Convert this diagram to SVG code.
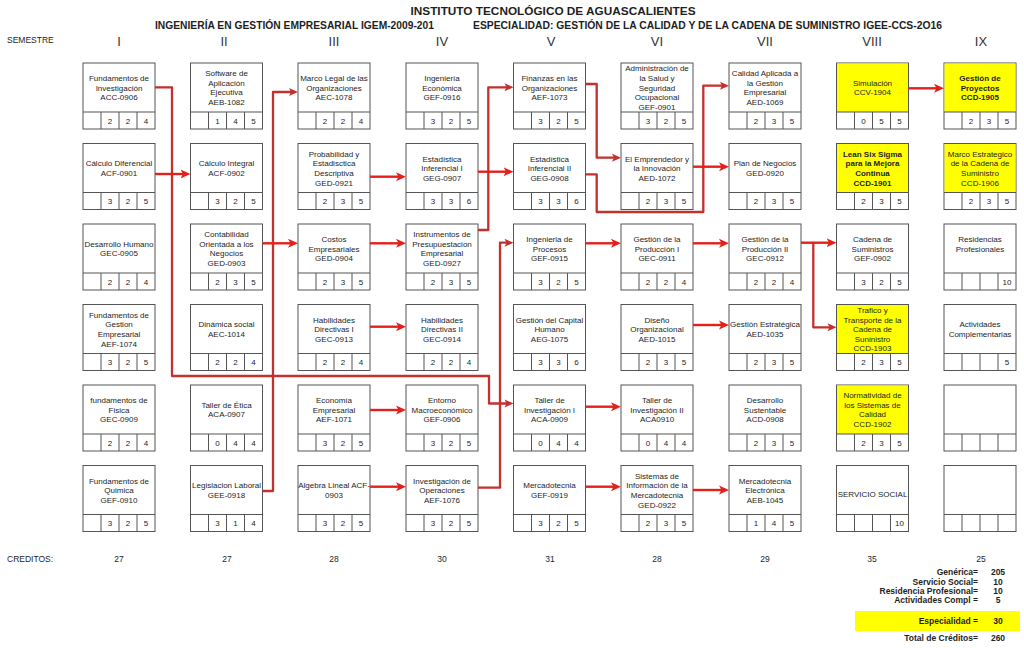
<svg xmlns="http://www.w3.org/2000/svg" width="1024" height="648" viewBox="0 0 1024 648">
<defs>
<style>
text{font-family:"Liberation Sans",Arial,sans-serif;fill:#1e1e1e}
.t{font-size:8px;text-anchor:middle}
.tb{font-size:8px;text-anchor:middle;font-weight:bold}
.n{font-size:8px;text-anchor:middle}
.box{fill:#fff;stroke:#555;stroke-width:1}
.yl{fill:#ffff00}
.gr{fill:none;stroke:#555;stroke-width:1}
.h1{font-size:11.8px;font-weight:bold;text-anchor:middle}
.h2{font-size:10px;font-weight:bold}
.sm{font-size:8.5px}
.rn{font-size:13px;text-anchor:middle;fill:#333}
.cr{font-size:8.5px;text-anchor:middle}
.sl{font-size:8.5px;font-weight:bold;text-anchor:end}
.sv{font-size:8.5px;font-weight:bold;text-anchor:middle}
.s{fill:none;stroke:#e3201b;stroke-width:2.4;marker-end:url(#as)}
.e{fill:none;stroke:#c4302e;stroke-width:2.3;stroke-linejoin:round;marker-end:url(#ae)}
</style>
<marker id="as" markerUnits="userSpaceOnUse" markerWidth="10" markerHeight="10" refX="6" refY="5" orient="auto">
<path d="M0,0.5 L10,5 L0,9.5 L2.5,5 Z" fill="#e3201b"/>
</marker>
<marker id="ae" markerUnits="userSpaceOnUse" markerWidth="10" markerHeight="10" refX="6" refY="5" orient="auto">
<path d="M1,1 L10,5 L1,9 L3,5 Z" fill="#c4302e"/>
</marker>
</defs>
<rect width="1024" height="648" fill="#fff"/>

<g id="header">
<text class="h1" x="553" y="15" textLength="285" lengthAdjust="spacingAndGlyphs">INSTITUTO TECNOLÓGICO DE AGUASCALIENTES</text>
<text class="h2" x="155" y="28.5" textLength="279" lengthAdjust="spacingAndGlyphs">INGENIERÍA EN GESTIÓN EMPRESARIAL IGEM-2009-201</text>
<text class="h2" x="473" y="28.5" textLength="469" lengthAdjust="spacingAndGlyphs">ESPECIALIDAD: GESTIÓN DE LA CALIDAD Y DE LA CADENA DE SUMINISTRO  IGEE-CCS-2O16</text>
<text class="sm" x="7" y="43">SEMESTRE</text>
<text class="rn" x="119" y="46">I</text>
<text class="rn" x="224" y="46">II</text>
<text class="rn" x="334" y="46">III</text>
<text class="rn" x="442" y="46">IV</text>
<text class="rn" x="551" y="46">V</text>
<text class="rn" x="657" y="46">VI</text>
<text class="rn" x="765" y="46">VII</text>
<text class="rn" x="872" y="46">VIII</text>
<text class="rn" x="981" y="46">IX</text>
</g>

<!-- Column I -->
<g id="acc-0906" transform="translate(83,63)"><rect class="box" width="72" height="66"/><path class="gr" d="M0,49H72M18,49V66M36,49V66M54,49V66"/>
<text class="t" x="36" y="18">Fundamentos de</text><text class="t" x="36" y="27.6">Investigación</text><text class="t" x="36" y="37.2">ACC-0906</text>
<text class="n" x="27" y="60.5">2</text><text class="n" x="45" y="60.5">2</text><text class="n" x="63" y="60.5">4</text></g>
<g id="acf-0901" transform="translate(83,143.5)"><rect class="box" width="72" height="66"/><path class="gr" d="M0,49H72M18,49V66M36,49V66M54,49V66"/>
<text class="t" x="36" y="22.8">Cálculo Diferencial</text><text class="t" x="36" y="32.4">ACF-0901</text>
<text class="n" x="27" y="60.5">3</text><text class="n" x="45" y="60.5">2</text><text class="n" x="63" y="60.5">5</text></g>
<g id="gec-0905" transform="translate(83,224)"><rect class="box" width="72" height="66"/><path class="gr" d="M0,49H72M18,49V66M36,49V66M54,49V66"/>
<text class="t" x="36" y="22.8">Desarrollo Humano</text><text class="t" x="36" y="32.4">GEC-0905</text>
<text class="n" x="27" y="60.5">2</text><text class="n" x="45" y="60.5">2</text><text class="n" x="63" y="60.5">4</text></g>
<g id="aef-1074" transform="translate(83,304.5)"><rect class="box" width="72" height="66"/><path class="gr" d="M0,49H72M18,49V66M36,49V66M54,49V66"/>
<text class="t" x="36" y="13.2">Fundamentos de</text><text class="t" x="36" y="22.8">Gestion</text><text class="t" x="36" y="32.4">Empresarial</text><text class="t" x="36" y="42">AEF-1074</text>
<text class="n" x="27" y="60.5">3</text><text class="n" x="45" y="60.5">2</text><text class="n" x="63" y="60.5">5</text></g>
<g id="gec-0909" transform="translate(83,385)"><rect class="box" width="72" height="66"/><path class="gr" d="M0,49H72M18,49V66M36,49V66M54,49V66"/>
<text class="t" x="36" y="18">fundamentos de</text><text class="t" x="36" y="27.6">Fisica</text><text class="t" x="36" y="37.2">GEC-0909</text>
<text class="n" x="27" y="60.5">2</text><text class="n" x="45" y="60.5">2</text><text class="n" x="63" y="60.5">4</text></g>
<g id="gef-0910" transform="translate(83,465.5)"><rect class="box" width="72" height="66"/><path class="gr" d="M0,49H72M18,49V66M36,49V66M54,49V66"/>
<text class="t" x="36" y="18">Fundamentos de</text><text class="t" x="36" y="27.6">Quimica</text><text class="t" x="36" y="37.2">GEF-0910</text>
<text class="n" x="27" y="60.5">3</text><text class="n" x="45" y="60.5">2</text><text class="n" x="63" y="60.5">5</text></g>

<!-- Column II -->
<g id="aeb-1082" transform="translate(190.5,63)"><rect class="box" width="72" height="66"/><path class="gr" d="M0,49H72M18,49V66M36,49V66M54,49V66"/>
<text class="t" x="36" y="13.2">Software de</text><text class="t" x="36" y="22.8">Aplicación</text><text class="t" x="36" y="32.4">Ejecutiva</text><text class="t" x="36" y="42">AEB-1082</text>
<text class="n" x="27" y="60.5">1</text><text class="n" x="45" y="60.5">4</text><text class="n" x="63" y="60.5">5</text></g>
<g id="acf-0902" transform="translate(190.5,143.5)"><rect class="box" width="72" height="66"/><path class="gr" d="M0,49H72M18,49V66M36,49V66M54,49V66"/>
<text class="t" x="36" y="22.8">Cálculo Integral</text><text class="t" x="36" y="32.4">ACF-0902</text>
<text class="n" x="27" y="60.5">3</text><text class="n" x="45" y="60.5">2</text><text class="n" x="63" y="60.5">5</text></g>
<g id="ged-0903" transform="translate(190.5,224)"><rect class="box" width="72" height="66"/><path class="gr" d="M0,49H72M18,49V66M36,49V66M54,49V66"/>
<text class="t" x="36" y="13.2">Contabilidad</text><text class="t" x="36" y="22.8">Orientada a los</text><text class="t" x="36" y="32.4">Negocios</text><text class="t" x="36" y="42">GED-0903</text>
<text class="n" x="27" y="60.5">2</text><text class="n" x="45" y="60.5">3</text><text class="n" x="63" y="60.5">5</text></g>
<g id="aec-1014" transform="translate(190.5,304.5)"><rect class="box" width="72" height="66"/><path class="gr" d="M0,49H72M18,49V66M36,49V66M54,49V66"/>
<text class="t" x="36" y="22.8">Dinámica social</text><text class="t" x="36" y="32.4">AEC-1014</text>
<text class="n" x="27" y="60.5">2</text><text class="n" x="45" y="60.5">2</text><text class="n" x="63" y="60.5">4</text></g>
<g id="aca-0907" transform="translate(190.5,385)"><rect class="box" width="72" height="66"/><path class="gr" d="M0,49H72M18,49V66M36,49V66M54,49V66"/>
<text class="t" x="36" y="22.8">Taller de Ética</text><text class="t" x="36" y="32.4">ACA-0907</text>
<text class="n" x="27" y="60.5">0</text><text class="n" x="45" y="60.5">4</text><text class="n" x="63" y="60.5">4</text></g>
<g id="gee-0918" transform="translate(190.5,465.5)"><rect class="box" width="72" height="66"/><path class="gr" d="M0,49H72M18,49V66M36,49V66M54,49V66"/>
<text class="t" x="36" y="22.8">Legislacion Laboral</text><text class="t" x="36" y="32.4">GEE-0918</text>
<text class="n" x="27" y="60.5">3</text><text class="n" x="45" y="60.5">1</text><text class="n" x="63" y="60.5">4</text></g>

<!-- Column III -->
<g id="aec-1078" transform="translate(298,63)"><rect class="box" width="72" height="66"/><path class="gr" d="M0,49H72M18,49V66M36,49V66M54,49V66"/>
<text class="t" x="36" y="18">Marco Legal de las</text><text class="t" x="36" y="27.6">Organizaciones</text><text class="t" x="36" y="37.2">AEC-1078</text>
<text class="n" x="27" y="60.5">2</text><text class="n" x="45" y="60.5">2</text><text class="n" x="63" y="60.5">4</text></g>
<g id="ged-0921" transform="translate(298,143.5)"><rect class="box" width="72" height="66"/><path class="gr" d="M0,49H72M18,49V66M36,49V66M54,49V66"/>
<text class="t" x="36" y="13.2">Probabilidad y</text><text class="t" x="36" y="22.8">Estadisctica</text><text class="t" x="36" y="32.4">Descriptiva</text><text class="t" x="36" y="42">GED-0921</text>
<text class="n" x="27" y="60.5">2</text><text class="n" x="45" y="60.5">3</text><text class="n" x="63" y="60.5">5</text></g>
<g id="ged-0904" transform="translate(298,224)"><rect class="box" width="72" height="66"/><path class="gr" d="M0,49H72M18,49V66M36,49V66M54,49V66"/>
<text class="t" x="36" y="18">Costos</text><text class="t" x="36" y="27.6">Empresariales</text><text class="t" x="36" y="37.2">GED-0904</text>
<text class="n" x="27" y="60.5">2</text><text class="n" x="45" y="60.5">3</text><text class="n" x="63" y="60.5">5</text></g>
<g id="gec-0913" transform="translate(298,304.5)"><rect class="box" width="72" height="66"/><path class="gr" d="M0,49H72M18,49V66M36,49V66M54,49V66"/>
<text class="t" x="36" y="18">Habilidades</text><text class="t" x="36" y="27.6">Directivas I</text><text class="t" x="36" y="37.2">GEC-0913</text>
<text class="n" x="27" y="60.5">2</text><text class="n" x="45" y="60.5">2</text><text class="n" x="63" y="60.5">4</text></g>
<g id="aef-1071" transform="translate(298,385)"><rect class="box" width="72" height="66"/><path class="gr" d="M0,49H72M18,49V66M36,49V66M54,49V66"/>
<text class="t" x="36" y="18">Economía</text><text class="t" x="36" y="27.6">Empresarial</text><text class="t" x="36" y="37.2">AEF-1071</text>
<text class="n" x="27" y="60.5">3</text><text class="n" x="45" y="60.5">2</text><text class="n" x="63" y="60.5">5</text></g>
<g id="acf-0903" transform="translate(298,465.5)"><rect class="box" width="72" height="66"/><path class="gr" d="M0,49H72M18,49V66M36,49V66M54,49V66"/>
<text class="t" x="36" y="22.8">Algebra Lineal ACF-</text><text class="t" x="36" y="32.4">0903</text>
<text class="n" x="27" y="60.5">3</text><text class="n" x="45" y="60.5">2</text><text class="n" x="63" y="60.5">5</text></g>

<!-- Column IV -->
<g id="gef-0916" transform="translate(406,63)"><rect class="box" width="72" height="66"/><path class="gr" d="M0,49H72M18,49V66M36,49V66M54,49V66"/>
<text class="t" x="36" y="18">Ingeniería</text><text class="t" x="36" y="27.6">Económica</text><text class="t" x="36" y="37.2">GEF-0916</text>
<text class="n" x="27" y="60.5">3</text><text class="n" x="45" y="60.5">2</text><text class="n" x="63" y="60.5">5</text></g>
<g id="geg-0907" transform="translate(406,143.5)"><rect class="box" width="72" height="66"/><path class="gr" d="M0,49H72M18,49V66M36,49V66M54,49V66"/>
<text class="t" x="36" y="18">Estadística</text><text class="t" x="36" y="27.6">Inferencial I</text><text class="t" x="36" y="37.2">GEG-0907</text>
<text class="n" x="27" y="60.5">3</text><text class="n" x="45" y="60.5">3</text><text class="n" x="63" y="60.5">6</text></g>
<g id="ged-0927" transform="translate(406,224)"><rect class="box" width="72" height="66"/><path class="gr" d="M0,49H72M18,49V66M36,49V66M54,49V66"/>
<text class="t" x="36" y="13.2">Instrumentos de</text><text class="t" x="36" y="22.8">Presupuestacion</text><text class="t" x="36" y="32.4">Empresarial</text><text class="t" x="36" y="42">GED-0927</text>
<text class="n" x="27" y="60.5">2</text><text class="n" x="45" y="60.5">3</text><text class="n" x="63" y="60.5">5</text></g>
<g id="gec-0914" transform="translate(406,304.5)"><rect class="box" width="72" height="66"/><path class="gr" d="M0,49H72M18,49V66M36,49V66M54,49V66"/>
<text class="t" x="36" y="18">Habilidades</text><text class="t" x="36" y="27.6">Directivas II</text><text class="t" x="36" y="37.2">GEC-0914</text>
<text class="n" x="27" y="60.5">2</text><text class="n" x="45" y="60.5">2</text><text class="n" x="63" y="60.5">4</text></g>
<g id="gef-0906" transform="translate(406,385)"><rect class="box" width="72" height="66"/><path class="gr" d="M0,49H72M18,49V66M36,49V66M54,49V66"/>
<text class="t" x="36" y="18">Entorno</text><text class="t" x="36" y="27.6">Macroeconómico</text><text class="t" x="36" y="37.2">GEF-0906</text>
<text class="n" x="27" y="60.5">3</text><text class="n" x="45" y="60.5">2</text><text class="n" x="63" y="60.5">5</text></g>
<g id="aef-1076" transform="translate(406,465.5)"><rect class="box" width="72" height="66"/><path class="gr" d="M0,49H72M18,49V66M36,49V66M54,49V66"/>
<text class="t" x="36" y="18">Investigación de</text><text class="t" x="36" y="27.6">Operaciones</text><text class="t" x="36" y="37.2">AEF-1076</text>
<text class="n" x="27" y="60.5">3</text><text class="n" x="45" y="60.5">2</text><text class="n" x="63" y="60.5">5</text></g>

<!-- Column V -->
<g id="aef-1073" transform="translate(513.5,63)"><rect class="box" width="72" height="66"/><path class="gr" d="M0,49H72M18,49V66M36,49V66M54,49V66"/>
<text class="t" x="36" y="18">Finanzas en las</text><text class="t" x="36" y="27.6">Organizaciones</text><text class="t" x="36" y="37.2">AEF-1073</text>
<text class="n" x="27" y="60.5">3</text><text class="n" x="45" y="60.5">2</text><text class="n" x="63" y="60.5">5</text></g>
<g id="geg-0908" transform="translate(513.5,143.5)"><rect class="box" width="72" height="66"/><path class="gr" d="M0,49H72M18,49V66M36,49V66M54,49V66"/>
<text class="t" x="36" y="18">Estadística</text><text class="t" x="36" y="27.6">Inferencial II</text><text class="t" x="36" y="37.2">GEG-0908</text>
<text class="n" x="27" y="60.5">3</text><text class="n" x="45" y="60.5">3</text><text class="n" x="63" y="60.5">6</text></g>
<g id="gef-0915" transform="translate(513.5,224)"><rect class="box" width="72" height="66"/><path class="gr" d="M0,49H72M18,49V66M36,49V66M54,49V66"/>
<text class="t" x="36" y="18">Ingenieria de</text><text class="t" x="36" y="27.6">Procesos</text><text class="t" x="36" y="37.2">GEF-0915</text>
<text class="n" x="27" y="60.5">3</text><text class="n" x="45" y="60.5">2</text><text class="n" x="63" y="60.5">5</text></g>
<g id="aeg-1075" transform="translate(513.5,304.5)"><rect class="box" width="72" height="66"/><path class="gr" d="M0,49H72M18,49V66M36,49V66M54,49V66"/>
<text class="t" x="36" y="18">Gestión del Capital</text><text class="t" x="36" y="27.6">Humano</text><text class="t" x="36" y="37.2">AEG-1075</text>
<text class="n" x="27" y="60.5">3</text><text class="n" x="45" y="60.5">3</text><text class="n" x="63" y="60.5">6</text></g>
<g id="aca-0909" transform="translate(513.5,385)"><rect class="box" width="72" height="66"/><path class="gr" d="M0,49H72M18,49V66M36,49V66M54,49V66"/>
<text class="t" x="36" y="18">Taller de</text><text class="t" x="36" y="27.6">Investigación I</text><text class="t" x="36" y="37.2">ACA-0909</text>
<text class="n" x="27" y="60.5">0</text><text class="n" x="45" y="60.5">4</text><text class="n" x="63" y="60.5">4</text></g>
<g id="gef-0919" transform="translate(513.5,465.5)"><rect class="box" width="72" height="66"/><path class="gr" d="M0,49H72M18,49V66M36,49V66M54,49V66"/>
<text class="t" x="36" y="22.8">Mercadotecnia</text><text class="t" x="36" y="32.4">GEF-0919</text>
<text class="n" x="27" y="60.5">3</text><text class="n" x="45" y="60.5">2</text><text class="n" x="63" y="60.5">5</text></g>

<!-- Column VI -->
<g id="gef-0901" transform="translate(621,63)"><rect class="box" width="72" height="66"/><path class="gr" d="M0,49H72M18,49V66M36,49V66M54,49V66"/>
<text class="t" x="36" y="8.4">Administración de</text><text class="t" x="36" y="18">la Salud y</text><text class="t" x="36" y="27.6">Seguridad</text><text class="t" x="36" y="37.2">Ocupacional</text><text class="t" x="36" y="46.8">GEF-0901</text>
<text class="n" x="27" y="60.5">3</text><text class="n" x="45" y="60.5">2</text><text class="n" x="63" y="60.5">5</text></g>
<g id="aed-1072" transform="translate(621,143.5)"><rect class="box" width="72" height="66"/><path class="gr" d="M0,49H72M18,49V66M36,49V66M54,49V66"/>
<text class="t" x="36" y="18">El Emprendedor y</text><text class="t" x="36" y="27.6">la Innovación</text><text class="t" x="36" y="37.2">AED-1072</text>
<text class="n" x="27" y="60.5">2</text><text class="n" x="45" y="60.5">3</text><text class="n" x="63" y="60.5">5</text></g>
<g id="gec-0911" transform="translate(621,224)"><rect class="box" width="72" height="66"/><path class="gr" d="M0,49H72M18,49V66M36,49V66M54,49V66"/>
<text class="t" x="36" y="18">Gestión de la</text><text class="t" x="36" y="27.6">Producción I</text><text class="t" x="36" y="37.2">GEC-0911</text>
<text class="n" x="27" y="60.5">2</text><text class="n" x="45" y="60.5">2</text><text class="n" x="63" y="60.5">4</text></g>
<g id="aed-1015" transform="translate(621,304.5)"><rect class="box" width="72" height="66"/><path class="gr" d="M0,49H72M18,49V66M36,49V66M54,49V66"/>
<text class="t" x="36" y="18">Diseño</text><text class="t" x="36" y="27.6">Organizacional</text><text class="t" x="36" y="37.2">AED-1015</text>
<text class="n" x="27" y="60.5">2</text><text class="n" x="45" y="60.5">3</text><text class="n" x="63" y="60.5">5</text></g>
<g id="aca0910" transform="translate(621,385)"><rect class="box" width="72" height="66"/><path class="gr" d="M0,49H72M18,49V66M36,49V66M54,49V66"/>
<text class="t" x="36" y="18">Taller de</text><text class="t" x="36" y="27.6">Investigación II</text><text class="t" x="36" y="37.2">ACA0910</text>
<text class="n" x="27" y="60.5">0</text><text class="n" x="45" y="60.5">4</text><text class="n" x="63" y="60.5">4</text></g>
<g id="ged-0922" transform="translate(621,465.5)"><rect class="box" width="72" height="66"/><path class="gr" d="M0,49H72M18,49V66M36,49V66M54,49V66"/>
<text class="t" x="36" y="13.2">Sistemas de</text><text class="t" x="36" y="22.8">Información de la</text><text class="t" x="36" y="32.4">Mercadotecnia</text><text class="t" x="36" y="42">GED-0922</text>
<text class="n" x="27" y="60.5">2</text><text class="n" x="45" y="60.5">3</text><text class="n" x="63" y="60.5">5</text></g>

<!-- Column VII -->
<g id="aed-1069" transform="translate(729,63)"><rect class="box" width="72" height="66"/><path class="gr" d="M0,49H72M18,49V66M36,49V66M54,49V66"/>
<text class="t" x="36" y="13.2">Calidad Aplicada a</text><text class="t" x="36" y="22.8">la Gestión</text><text class="t" x="36" y="32.4">Empresarial</text><text class="t" x="36" y="42">AED-1069</text>
<text class="n" x="27" y="60.5">2</text><text class="n" x="45" y="60.5">3</text><text class="n" x="63" y="60.5">5</text></g>
<g id="ged-0920" transform="translate(729,143.5)"><rect class="box" width="72" height="66"/><path class="gr" d="M0,49H72M18,49V66M36,49V66M54,49V66"/>
<text class="t" x="36" y="22.8">Plan de Negocios</text><text class="t" x="36" y="32.4">GED-0920</text>
<text class="n" x="27" y="60.5">2</text><text class="n" x="45" y="60.5">3</text><text class="n" x="63" y="60.5">5</text></g>
<g id="gec-0912" transform="translate(729,224)"><rect class="box" width="72" height="66"/><path class="gr" d="M0,49H72M18,49V66M36,49V66M54,49V66"/>
<text class="t" x="36" y="18">Gestión de la</text><text class="t" x="36" y="27.6">Producción II</text><text class="t" x="36" y="37.2">GEC-0912</text>
<text class="n" x="27" y="60.5">2</text><text class="n" x="45" y="60.5">2</text><text class="n" x="63" y="60.5">4</text></g>
<g id="aed-1035" transform="translate(729,304.5)"><rect class="box" width="72" height="66"/><path class="gr" d="M0,49H72M18,49V66M36,49V66M54,49V66"/>
<text class="t" x="36" y="22.8">Gestión Estratégica</text><text class="t" x="36" y="32.4">AED-1035</text>
<text class="n" x="27" y="60.5">2</text><text class="n" x="45" y="60.5">3</text><text class="n" x="63" y="60.5">5</text></g>
<g id="acd-0908" transform="translate(729,385)"><rect class="box" width="72" height="66"/><path class="gr" d="M0,49H72M18,49V66M36,49V66M54,49V66"/>
<text class="t" x="36" y="18">Desarrollo</text><text class="t" x="36" y="27.6">Sustentable</text><text class="t" x="36" y="37.2">ACD-0908</text>
<text class="n" x="27" y="60.5">2</text><text class="n" x="45" y="60.5">3</text><text class="n" x="63" y="60.5">5</text></g>
<g id="aeb-1045" transform="translate(729,465.5)"><rect class="box" width="72" height="66"/><path class="gr" d="M0,49H72M18,49V66M36,49V66M54,49V66"/>
<text class="t" x="36" y="18">Mercadotecnia</text><text class="t" x="36" y="27.6">Electrónica</text><text class="t" x="36" y="37.2">AEB-1045</text>
<text class="n" x="27" y="60.5">1</text><text class="n" x="45" y="60.5">4</text><text class="n" x="63" y="60.5">5</text></g>

<!-- Column VIII -->
<g id="ccv-1904" transform="translate(836.5,63)"><rect class="box" width="72" height="66"/><rect class="yl" x="0.5" y="0.5" width="71" height="48.5"/><path class="gr" d="M0,49H72M18,49V66M36,49V66M54,49V66"/>
<text class="t" x="36" y="22.8">Simulación</text><text class="t" x="36" y="32.4">CCV-1904</text>
<text class="n" x="27" y="60.5">0</text><text class="n" x="45" y="60.5">5</text><text class="n" x="63" y="60.5">5</text></g>
<g id="ccd-1901" transform="translate(836.5,143.5)"><rect class="box" width="72" height="66"/><rect class="yl" x="0.5" y="0.5" width="71" height="48.5"/><path class="gr" d="M0,49H72M18,49V66M36,49V66M54,49V66"/>
<text class="tb" x="36" y="13.2">Lean Six Sigma</text><text class="tb" x="36" y="22.8">para la Mejora</text><text class="tb" x="36" y="32.4">Continua</text><text class="tb" x="36" y="42">CCD-1901</text>
<text class="n" x="27" y="60.5">2</text><text class="n" x="45" y="60.5">3</text><text class="n" x="63" y="60.5">5</text></g>
<g id="gef-0902" transform="translate(836.5,224)"><rect class="box" width="72" height="66"/><path class="gr" d="M0,49H72M18,49V66M36,49V66M54,49V66"/>
<text class="t" x="36" y="18">Cadena de</text><text class="t" x="36" y="27.6">Suministros</text><text class="t" x="36" y="37.2">GEF-0902</text>
<text class="n" x="27" y="60.5">3</text><text class="n" x="45" y="60.5">2</text><text class="n" x="63" y="60.5">5</text></g>
<g id="ccd-1903" transform="translate(836.5,304.5)"><rect class="box" width="72" height="66"/><rect class="yl" x="0.5" y="0.5" width="71" height="48.5"/><path class="gr" d="M0,49H72M18,49V66M36,49V66M54,49V66"/>
<text class="t" x="36" y="8.4">Trafico y</text><text class="t" x="36" y="18">Transporte de la</text><text class="t" x="36" y="27.6">Cadena de</text><text class="t" x="36" y="37.2">Suninistro</text><text class="t" x="36" y="46.8">CCD-1903</text>
<text class="n" x="27" y="60.5">2</text><text class="n" x="45" y="60.5">3</text><text class="n" x="63" y="60.5">5</text></g>
<g id="ccd-1902" transform="translate(836.5,385)"><rect class="box" width="72" height="66"/><rect class="yl" x="0.5" y="0.5" width="71" height="48.5"/><path class="gr" d="M0,49H72M18,49V66M36,49V66M54,49V66"/>
<text class="t" x="36" y="13.2">Normatividad de</text><text class="t" x="36" y="22.8">los Sistemas de</text><text class="t" x="36" y="32.4">Calidad</text><text class="t" x="36" y="42">CCD-1902</text>
<text class="n" x="27" y="60.5">2</text><text class="n" x="45" y="60.5">3</text><text class="n" x="63" y="60.5">5</text></g>
<g id="servicio-social" transform="translate(836.5,465.5)"><rect class="box" width="72" height="66"/><path class="gr" d="M0,49H72M18,49V66M36,49V66M54,49V66"/>
<text class="t" x="36" y="31.7">SERVICIO SOCIAL</text>
<text class="n" x="63" y="60.5">10</text></g>

<!-- Column IX -->
<g id="ccd-1905" transform="translate(944,63)"><rect class="box" width="72" height="66"/><rect class="yl" x="0.5" y="0.5" width="71" height="48.5"/><path class="gr" d="M0,49H72M18,49V66M36,49V66M54,49V66"/>
<text class="tb" x="36" y="18">Gestión de</text><text class="tb" x="36" y="27.6">Proyectos</text><text class="tb" x="36" y="37.2">CCD-1905</text>
<text class="n" x="27" y="60.5">2</text><text class="n" x="45" y="60.5">3</text><text class="n" x="63" y="60.5">5</text></g>
<g id="ccd-1906" transform="translate(944,143.5)"><rect class="box" width="72" height="66"/><rect class="yl" x="0.5" y="0.5" width="71" height="48.5"/><path class="gr" d="M0,49H72M18,49V66M36,49V66M54,49V66"/>
<text class="t" x="36" y="13.2">Marco Estrategico</text><text class="t" x="36" y="22.8">de la Cadena de</text><text class="t" x="36" y="32.4">Suministro</text><text class="t" x="36" y="42">CCD-1906</text>
<text class="n" x="27" y="60.5">2</text><text class="n" x="45" y="60.5">3</text><text class="n" x="63" y="60.5">5</text></g>
<g id="residencias" transform="translate(944,224)"><rect class="box" width="72" height="66"/><path class="gr" d="M0,49H72M18,49V66M36,49V66M54,49V66"/>
<text class="t" x="36" y="18">Residencias</text><text class="t" x="36" y="27.6">Profesionales</text>
<text class="n" x="63" y="60.5">10</text></g>
<g id="actividades" transform="translate(944,304.5)"><rect class="box" width="72" height="66"/><path class="gr" d="M0,49H72M18,49V66M36,49V66M54,49V66"/>
<text class="t" x="36" y="22.8">Actividades</text><text class="t" x="36" y="32.4">Complementarias</text>
<text class="n" x="63" y="60.5">5</text></g>
<g id="vacio-1" transform="translate(944,385)"><rect class="box" width="72" height="66"/><path class="gr" d="M0,49H72M18,49V66M36,49V66M54,49V66"/></g>
<g id="vacio-2" transform="translate(944,465.5)"><rect class="box" width="72" height="66"/><path class="gr" d="M0,49H72M18,49V66M36,49V66M54,49V66"/></g>

<g id="connectors">
<path class="e" d="M155,87.3H172V376H489V403.5H509.5"/>
<path class="e" d="M262.5,491H273V92H294"/>
<path class="e" d="M478,230H488.3V87.3H509.5"/>
<path class="e" d="M478,487.7H500V242.7H509.5"/>
<path class="e" d="M585.5,84H596.7V157.7H617"/>
<path class="e" d="M585.5,174.3H596.7V212H703.3V85.7H725"/>
<path class="e" d="M813.3,242.7V327.3H832.5"/>
<path class="s" d="M155,174H186.5"/>
<path class="s" d="M262.5,243.3H294"/>
<path class="s" d="M370,176.7H402"/>
<path class="s" d="M370,243.3H402"/>
<path class="s" d="M370,326.7H402"/>
<path class="s" d="M370,410H402"/>
<path class="s" d="M370,486.7H402"/>
<path class="s" d="M478,171.7H509.5"/>
<path class="s" d="M693,166.7H725"/>
<path class="s" d="M585.5,243.3H617"/>
<path class="s" d="M693,243.3H725"/>
<path class="s" d="M801,242.7H832.5"/>
<path class="s" d="M908.5,88.3H940"/>
<path class="s" d="M693,325H725"/>
<path class="s" d="M585.5,406.7H617"/>
<path class="s" d="M585.5,486.7H617"/>
<path class="s" d="M693,490H725"/>
</g>

<g id="creditos">
<text class="sm" x="7" y="562">CREDITOS:</text>
<text class="cr" x="119" y="562">27</text>
<text class="cr" x="227" y="562">27</text>
<text class="cr" x="334" y="562">28</text>
<text class="cr" x="442" y="562">30</text>
<text class="cr" x="550" y="562">31</text>
<text class="cr" x="657" y="562">28</text>
<text class="cr" x="765" y="562">29</text>
<text class="cr" x="872" y="562">35</text>
<text class="cr" x="981" y="562">25</text>
</g>

<g id="resumen">
<text class="sl" x="978" y="575">Genérica=</text><text class="sv" x="998" y="575">205</text>
<text class="sl" x="978" y="584.5">Servicio Social=</text><text class="sv" x="998" y="584.5">10</text>
<text class="sl" x="978" y="593.5">Residencia Profesional=</text><text class="sv" x="998" y="593.5">10</text>
<text class="sl" x="978" y="602.5">Actividades   Compl =</text><text class="sv" x="998" y="602.5">5</text>
<rect x="855" y="611" width="165" height="20" fill="#ffff00"/>
<text class="sl" x="978" y="624">Especialidad =</text><text class="sv" x="998" y="624">30</text>
<text class="sl" x="978" y="641">Total de Créditos=</text><text class="sv" x="998" y="641">260</text>
</g>
</svg>
